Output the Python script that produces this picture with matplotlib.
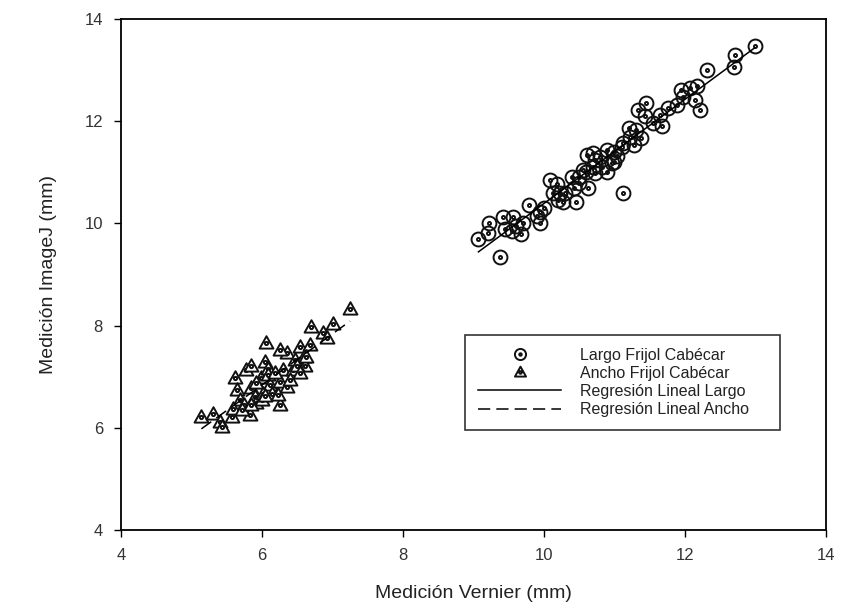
import numpy as np
import matplotlib
matplotlib.use('Agg')
import matplotlib.pyplot as plt
from matplotlib.path import Path

plt.rcParams['font.family'] = ['Liberation Sans', 'DejaVu Sans']

# Largo (circulos)
largo_x = [9.07, 9.21, 9.22, 9.38, 9.42, 9.56, 9.54, 9.68, 9.70, 9.79, 9.94, 9.94,
           10.08, 10.18, 10.13, 10.23, 10.27, 10.45, 10.42, 10.49, 10.56, 10.63,
           10.61, 10.72, 10.72, 10.70, 10.82, 10.89, 10.96, 11.03, 11.12, 11.12,
           11.22, 11.27, 11.20, 11.31, 11.38, 11.34, 11.45, 11.43, 11.55, 11.68,
           11.65, 11.76, 11.88, 11.95, 11.97, 12.07, 12.17, 12.14, 12.21, 12.31,
           12.69, 12.71, 12.99,
           10.00, 10.30, 10.50, 10.60, 10.80, 10.90, 11.00, 11.10, 10.40, 10.20,
           9.90, 9.60, 9.45, 10.70, 11.00]
largo_y = [9.69, 9.82, 10.00, 9.34, 10.12, 10.13, 9.86, 9.79, 10.00, 10.36, 10.01, 10.23,
           10.85, 10.78, 10.59, 10.59, 10.42, 10.42, 10.69, 10.91, 11.05, 10.69,
           11.34, 11.24, 10.98, 11.37, 11.11, 11.44, 11.18, 11.31, 10.59, 11.57,
           11.70, 11.53, 11.86, 11.83, 11.67, 12.22, 12.35, 12.10, 11.96, 11.91,
           12.12, 12.25, 12.32, 12.61, 12.48, 12.64, 12.68, 12.41, 12.22, 13.00,
           13.07, 13.30, 13.47,
           10.30, 10.60, 10.80, 11.00, 11.30, 11.00, 11.40, 11.50, 10.90, 10.45,
           10.15, 9.95, 9.90, 11.10, 11.20]

# Ancho (triangulos)
ancho_x = [5.14, 5.31, 5.40, 5.43, 5.57, 5.62, 5.64, 5.69, 5.74, 5.78, 5.85, 5.85,
           5.83, 5.90, 5.92, 5.99, 6.04, 6.06, 6.09, 6.11, 6.14, 6.26, 6.26, 6.23,
           6.30, 6.35, 6.35, 6.26, 6.44, 6.47, 6.54, 6.59, 6.61, 6.68, 6.70, 6.63,
           6.87, 6.92, 7.01, 7.25,
           5.59, 5.71, 5.85, 6.02, 6.00, 5.92, 6.09, 6.04, 6.40, 6.18, 6.49, 6.54]
ancho_y = [6.22, 6.27, 6.12, 6.02, 6.22, 6.97, 6.74, 6.54, 6.45, 7.13, 7.20, 6.77,
           6.25, 6.61, 6.48, 6.97, 7.29, 7.65, 7.16, 6.84, 6.67, 6.90, 6.45, 6.64,
           7.13, 7.46, 6.80, 7.52, 7.13, 7.33, 7.59, 7.39, 7.20, 7.62, 7.98, 7.39,
           7.85, 7.75, 8.04, 8.32,
           6.37, 6.35, 6.45, 6.67, 6.55, 6.87, 7.03, 6.63, 6.94, 7.07, 7.20, 7.07]

ticks = [4, 6, 8, 10, 12, 14]


def dotted_marker(base):
    inner = Path.unit_circle()
    inner = Path(inner.vertices * 0.22, inner.codes)
    return Path.make_compound_path(base, inner)


circ_mk = dotted_marker(Path.unit_circle())
tri = Path([[0, 1], [-0.95, -0.7], [0.95, -0.7], [0, 1]],
           [Path.MOVETO, Path.LINETO, Path.LINETO, Path.CLOSEPOLY])
tri_mk = dotted_marker(tri)

fig = plt.figure(figsize=(8.48, 6.13), dpi=100)
ax = fig.add_axes([0.1427, 0.1354, 0.8313, 0.8336])

ax.plot(largo_x, largo_y, linestyle='none', marker=circ_mk, markersize=10,
        markerfacecolor='none', markeredgecolor='#111111', markeredgewidth=1.4,
        label='Largo Frijol Cabécar')
ax.plot(ancho_x, ancho_y, linestyle='none', marker=tri_mk, markersize=10.5,
        markerfacecolor='white', markeredgecolor='#111111', markeredgewidth=1.4,
        label='Ancho Frijol Cabécar')

# regresiones lineales
bl = np.polyfit(largo_x, largo_y, 1)
xl = np.array([min(largo_x), max(largo_x)])
ax.plot(xl, np.polyval(bl, xl), color='black', lw=1.1, label='Regresión Lineal Largo')

ba = np.polyfit(ancho_x, ancho_y, 1)
xa = np.array([min(ancho_x), max(ancho_x)])
ax.plot(xa, np.polyval(ba, xa), color='black', lw=1.1, linestyle=(0, (8, 4)),
        label='Regresión Lineal Ancho')

ax.set_xlim(4, 14)
ax.set_ylim(4, 14)
ax.set_xticks(ticks)
ax.set_yticks(ticks)
ax.tick_params(direction='out', length=5, width=1, labelsize=12, colors='black',
               labelcolor='#333333', pad=8)
for s in ax.spines.values():
    s.set_linewidth(1.3)

ax.set_xlabel('Medición Vernier (mm)', fontsize=14, labelpad=16, color='#222222')
ax.set_ylabel('Medición ImageJ (mm)', fontsize=14, labelpad=20, color='#222222')

leg = ax.legend(loc='lower left', bbox_to_anchor=(0.477, 0.18, 0.469, 0.188),
                mode='expand', fontsize=11.5, frameon=True, fancybox=False,
                edgecolor='black', handlelength=5.2, handletextpad=1.2,
                labelspacing=0.2, borderpad=0.8, markerscale=0.8)
leg.get_frame().set_linewidth(1.2)
for t in leg.get_texts():
    t.set_color('#222222')

fig.savefig('out.png', dpi=100)
